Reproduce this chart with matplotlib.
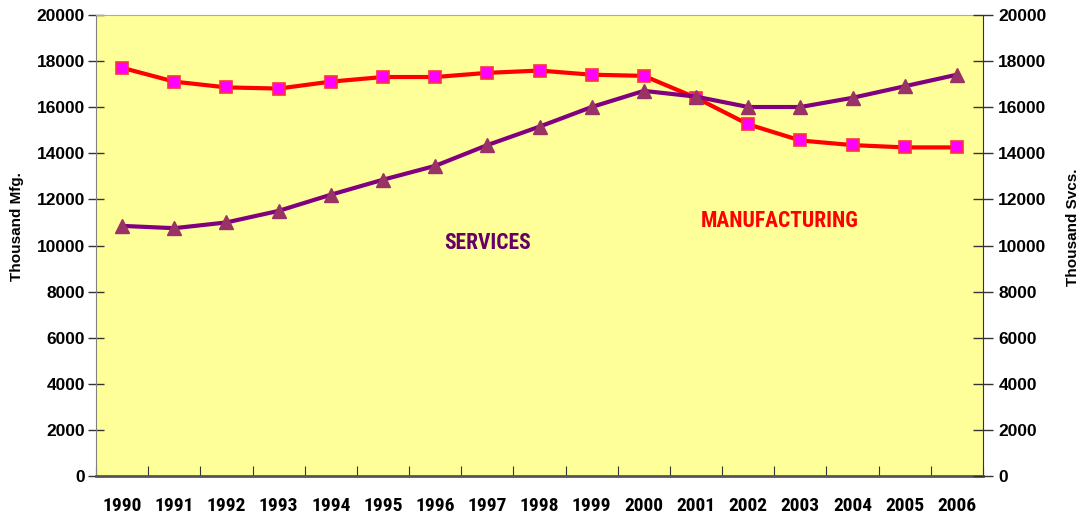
import matplotlib
matplotlib.use("Agg")
import matplotlib.pyplot as plt
from matplotlib import font_manager
import numpy as np

years = ["1990", "1991", "1992", "1993", "1994", "1995", "1996", "1997", "1998",
         "1999", "2000", "2001", "2002", "2003", "2004", "2005", "2006"]
manufacturing = [17700, 17100, 16850, 16800, 17100, 17300, 17300, 17480, 17580,
                 17400, 17350, 16400, 15250, 14550, 14350, 14250, 14250]
services = [10850, 10750, 11000, 11500, 12200, 12850, 13450, 14350, 15150,
            16000, 16700, 16450, 16000, 16000, 16400, 16900, 17400]

names = {f.name for f in font_manager.fontManager.ttflist}
narrow = ["Roboto Condensed", "Liberation Sans"] if "Roboto Condensed" in names else ["Liberation Sans"]
plt.rcParams['font.family'] = ['Liberation Sans', 'DejaVu Sans']

fig = plt.figure(figsize=(10.85, 5.27), dpi=100)
ax = fig.add_axes([0.0885, 0.0962, 0.8175, 0.8759])
ax.set_facecolor("#FFFF99")
ax2 = ax.twinx()

x = np.arange(len(years))
ax.plot(x, manufacturing, color="#FF0000", lw=3.0, marker="s", markersize=8,
        markerfacecolor="#FF00FF", markeredgecolor="#FF3333", markeredgewidth=1.2, zorder=3)
ax2.plot(x, services, color="#800080", lw=3.0, marker="^", markersize=10,
         markerfacecolor="#993366", markeredgecolor="#993366", zorder=3)

for a in (ax, ax2):
    a.set_ylim(0, 20000)
    a.set_yticks(np.arange(0, 20001, 2000))
    a.set_xlim(-0.5, len(years) - 0.5)

ax.tick_params(axis="y", direction="inout", length=12, width=1, color="#333333",
               labelsize=12.5, pad=2)
ax2.tick_params(axis="y", direction="inout", length=14, width=1, color="#333333",
                labelsize=12.5, pad=4)
for lab in ax.get_yticklabels() + ax2.get_yticklabels():
    lab.set_fontweight("bold")

ax.set_xticks(np.arange(-0.5, len(years), 1.0))
ax.set_xticklabels([])
ax.set_xticks(x, minor=True)
ax.set_xticklabels(years, minor=True, fontsize=14, fontweight="bold", family=narrow)
ax.tick_params(axis="x", which="major", direction="in", length=7, color="#333333")
ax.tick_params(axis="x", which="minor", length=0, pad=15)

ax.spines["left"].set_color("#808080")
ax.spines["bottom"].set_color("#555555")
ax.spines["bottom"].set_linewidth(2)
ax.spines["top"].set_color("#AAAAAA")
for s in ("left", "right", "top", "bottom"):
    ax2.spines[s].set_visible(False)
ax.spines["right"].set_color("#333333")

ax.set_ylabel("Thousand Mfg.", fontsize=11, fontweight="bold")
ax.yaxis.set_label_coords(-0.081, 0.54)
ax2.set_ylabel("Thousand Svcs.", fontsize=11, fontweight="bold", rotation=90)
ax2.yaxis.set_label_coords(1.094, 0.54)

ax.text(7.0, 10100, "SERVICES", color="#660066", fontsize=15.5, fontweight="bold",
        family=narrow, ha="center", va="center")
ax.text(12.6, 11050, "MANUFACTURING", color="#FF0000", fontsize=15.5, fontweight="bold",
        family=narrow, ha="center", va="center")

fig.savefig("out.png", dpi=100, facecolor="white")
